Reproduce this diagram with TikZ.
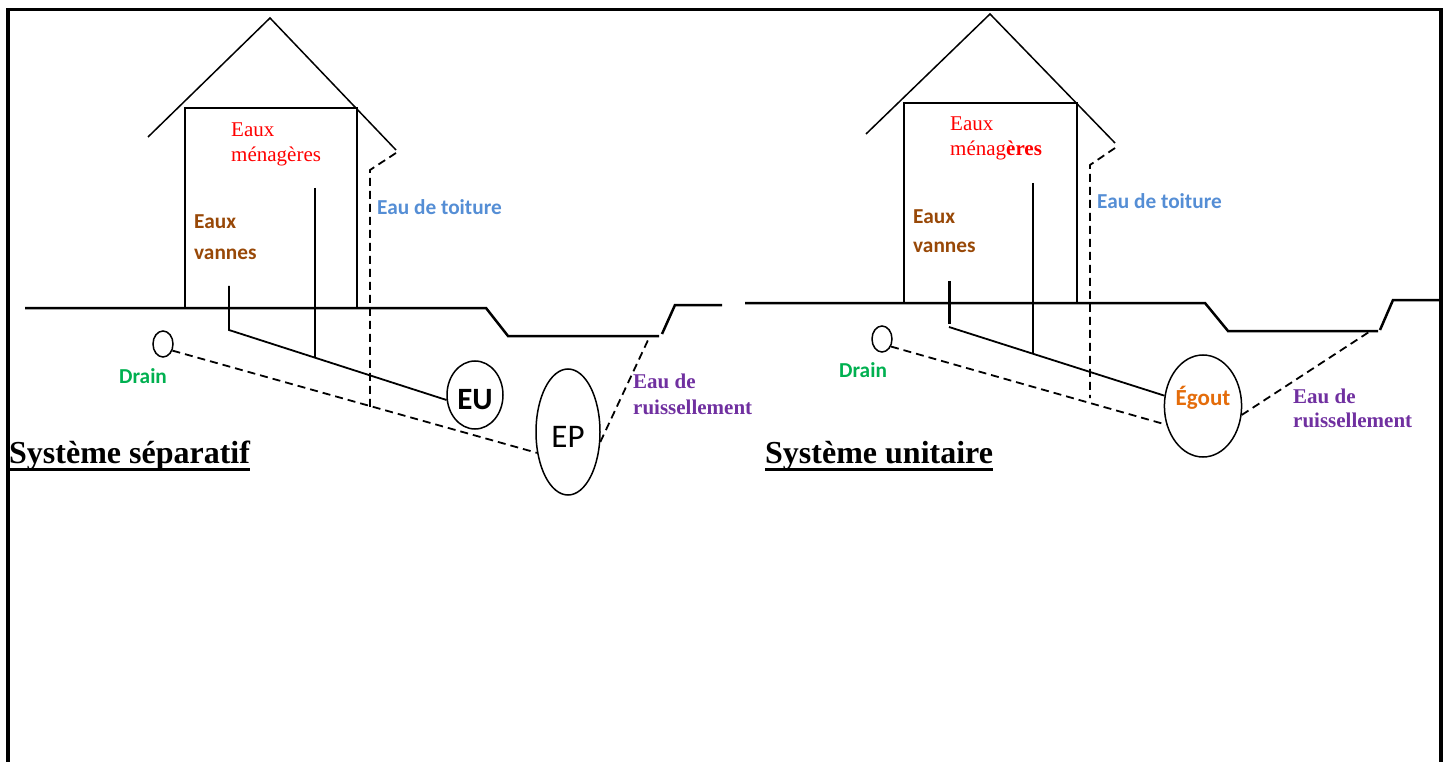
\documentclass[tikz,border=0pt]{standalone}
\usepackage{fontspec}
\setmainfont{Liberation Serif}
\newfontfamily\carlito{Carlito}
\usetikzlibrary{shapes.geometric}
\definecolor{menag}{HTML}{FF0000}
\definecolor{vanne}{HTML}{984807}
\definecolor{toit}{HTML}{558ED5}
\definecolor{drainc}{HTML}{00B050}
\definecolor{ruiss}{HTML}{7030A0}
\definecolor{egoutc}{HTML}{E46C0A}

\begin{document}
\begin{tikzpicture}[x=1pt,y=-1pt,
  lab/.style={inner sep=0pt, anchor=base west},
  serif/.style={lab, font=\fontsize{21}{25}\selectfont},
  sans/.style={lab, font=\carlito\bfseries\fontsize{21.3}{25}\selectfont},
  ruis/.style={lab, text=ruiss, font=\bfseries\fontsize{21}{25}\selectfont},
  titre/.style={lab, font=\bfseries\fontsize{32}{32}\selectfont},
  tube/.style={draw, ellipse, inner sep=0pt, line width=1.5pt},
  wall/.style={line width=1.5pt},
  sol/.style={line width=2.5pt},
  pipe/.style={line width=1.8pt},
  seep/.style={line width=1.8pt, dash pattern=on 8pt off 5pt}]
\useasboundingbox (0,0) rectangle (1449,762);
\draw[line width=3.5pt] (8,762) -- (8,9.5) -- (1441,9.5) -- (1441,762);	% cadre

% ---- systeme separatif
\draw[wall] (148,137) -- (270,18) -- (396,150);	% toit
\draw[wall] (185,307) -- (185,108) -- (357,108) -- (357,307);
\draw[sol] (25,308) -- (486,308) -- (508,336) -- (659,336);
\draw[sol] (662,334) -- (675,305) -- (722,305);
\node[serif, text=menag] (menL1) at (231,137) {Eaux};
\node[serif, text=menag] (menL2) at (231,162) {ménagères};
\node[sans, text=vanne] (vanL1) at (194,229) {Eaux};
\node[sans, text=vanne] (vanL2) at (194,259) {vannes};
\node[sans, text=toit] (toitL) at (377,215) {Eau de toiture};
\node[sans, text=drainc] (drainL) at (119,383) {Drain};
\node[ruis] (ruiL1) at (633,388) {Eau de};
\node[ruis] (ruiL2) at (633,414) {ruissellement};
\node[tube, minimum width=20pt, minimum height=26pt] (drL) at (163,344) {};
\node[tube, minimum width=56pt, minimum height=68pt, text height=28pt, text depth=0pt, font=\carlito\bfseries\fontsize{31}{31}\selectfont] (EU) at (475,395) {EU};
\node[tube, minimum width=64pt, minimum height=126pt, text height=30pt, text depth=0pt, font=\carlito\fontsize{33}{33}\selectfont] (EP) at (568,432) {EP};
\coordinate (vtopL) at (229,286);
\coordinate (vcoudeL) at (229,330);
\coordinate (mtopL) at (315,188);
\coordinate (mbasL) at (315,357);
\coordinate (gouttL) at (396,153);
\coordinate (descL) at (370,170);
\coordinate (piedL) at (370,407);
\coordinate (fosseL) at (649,338);
\draw[pipe] (vtopL) -- (vcoudeL) -- (EU.190);
\draw[pipe] (mtopL) -- (mbasL);
\draw[seep] (gouttL) -- (descL) -- (piedL);	% descente eau de toiture
\draw[seep] (drL.-35) -- (EP.214);
\draw[seep] (EP.-17) -- (fosseL);
\node[titre] (titreL) at (9,463) {Système séparatif};
\draw[line width=3pt] ([yshift=-6pt]titreL.base west) -- ([yshift=-6pt]titreL.base east);

% ---- systeme unitaire
\draw[wall] (866,134) -- (990,14) -- (1115,143);	% toit
\draw[wall] (904,302) -- (904,103) -- (1077,103) -- (1077,302);
\draw[sol] (745,303) -- (1205,303) -- (1228,331) -- (1378,331);
\draw[sol] (1380,330) -- (1393,300) -- (1441,300);
\node[serif, text=menag] (menR1) at (950,131) {Eaux};
\node[serif, text=menag] (menR2) at (950,156) {ménag\textbf{ères}};
\node[sans, text=vanne] (vanR1) at (913,224) {Eaux};
\node[sans, text=vanne] (vanR2) at (913,253) {vannes};
\node[sans, text=toit] (toitR) at (1097,209) {Eau de toiture};
\node[sans, text=drainc] (drainR) at (839,377) {Drain};
\node[ruis] (ruiR1) at (1293,403) {Eau de};
\node[ruis] (ruiR2) at (1293,427) {ruissellement};
\node[tube, minimum width=20pt, minimum height=26pt] (drR) at (882,339) {};
\node[tube, minimum width=76pt, minimum height=102pt, text height=10pt, text depth=12pt, text=egoutc, font=\carlito\bfseries\fontsize{23}{23}\selectfont] (egout) at (1203,406) {Égout};
\coordinate (vtopR) at (949,281);
\coordinate (vcoudeR) at (949,324);
\coordinate (vpenteR) at (949,327);
\coordinate (mtopR) at (1033,183);
\coordinate (mbasR) at (1033,353);
\coordinate (gouttR) at (1115,148);
\coordinate (descR) at (1090,165);
\coordinate (piedR) at (1090,398);
\coordinate (fosseR) at (1369,332);
\draw[pipe] [line width=3pt] (vtopR) -- (vcoudeR);
\draw[pipe] (vpenteR) -- (egout.165);
\draw[pipe] (mtopR) -- (mbasR);
\draw[seep] (gouttR) -- (descR) -- (piedR);	% descente eau de toiture
\draw[seep] (drR.-40) -- (egout.207);
\draw[seep] (egout.-13) -- (fosseR);
\node[titre] (titreR) at (765,463) {Système unitaire};
\draw[line width=3pt] ([yshift=-6pt]titreR.base west) -- ([yshift=-6pt]titreR.base east);
\end{tikzpicture}
\end{document}
